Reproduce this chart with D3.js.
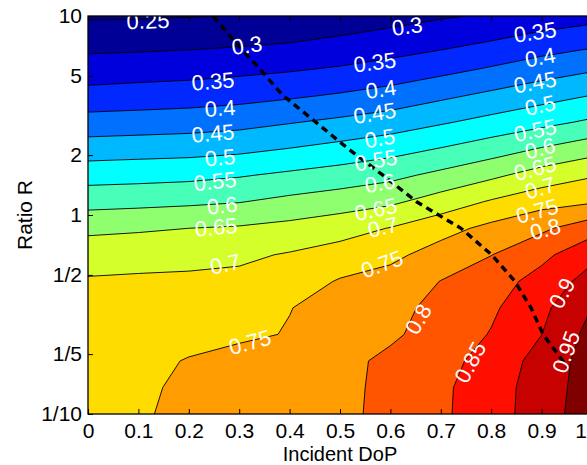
<!DOCTYPE html>
<html>
<head>
<meta charset="utf-8">
<script src="https://cdn.jsdelivr.net/npm/d3@7"></script>
<style>
  html, body { margin: 0; padding: 0; background: #fff; overflow: hidden; }
  svg { display: block; font-family: "Liberation Sans", Arial, Helvetica, sans-serif; }
</style>
</head>
<body>
<svg id="chart" width="587" height="465"></svg>
<script>
// Sampling grid: incident degree of polarization (columns) and ratio R (rows, log spaced)
const dopGrid = [0, 0.1, 0.2, 0.3, 0.4, 0.5, 0.6, 0.7, 0.8, 0.9, 1.0];
const ratioGrid = [0.1, 0.1359, 0.1848, 0.2512, 0.3415, 0.4642, 0.6310, 0.8577,
                   1.1659, 1.5849, 2.1544, 2.9286, 3.9811, 5.4117, 7.3564, 10];

// Output DoP on the grid, one row per ratio (R = 0.1 first)
const outputDoP = [
  [0.735, 0.746, 0.7586, 0.7706, 0.7827, 0.789, 0.813, 0.842, 0.878, 0.925, 0.98],
  [0.731, 0.744, 0.7564, 0.7688, 0.7813, 0.788, 0.812, 0.841, 0.8768, 0.9236, 0.975],
  [0.726, 0.739, 0.7523, 0.7657, 0.7791, 0.787, 0.810, 0.8356, 0.866, 0.920, 0.972],
  [0.720, 0.729, 0.737, 0.742, 0.7524, 0.7735, 0.7926, 0.8197, 0.8528, 0.8995, 0.967],
  [0.713, 0.717, 0.722, 0.728, 0.749, 0.764, 0.7874, 0.8118, 0.842, 0.888, 0.951],
  [0.705, 0.708, 0.710, 0.712, 0.725, 0.754, 0.770, 0.801, 0.827, 0.869, 0.92],
  [0.678, 0.681, 0.684, 0.691, 0.704, 0.7205, 0.738, 0.771, 0.799, 0.837, 0.888],
  [0.639, 0.644, 0.650, 0.655, 0.665, 0.680, 0.702, 0.732, 0.763, 0.791, 0.83],
  [0.582, 0.586, 0.591, 0.598, 0.613, 0.626, 0.641, 0.672, 0.705, 0.732, 0.745],
  [0.530, 0.533, 0.537, 0.546, 0.559, 0.572, 0.587, 0.612, 0.6395, 0.6715, 0.6956],
  [0.474, 0.478, 0.481, 0.488, 0.501, 0.515, 0.531, 0.552, 0.5755, 0.603, 0.629],
  [0.420, 0.423, 0.427, 0.434, 0.447, 0.460, 0.474, 0.4945, 0.5155, 0.536, 0.558],
  [0.367, 0.372, 0.376, 0.383, 0.393, 0.405, 0.4195, 0.440, 0.4605, 0.481, 0.501],
  [0.323, 0.327, 0.331, 0.3375, 0.345, 0.355, 0.368, 0.3855, 0.405, 0.426, 0.444],
  [0.283, 0.285, 0.288, 0.293, 0.2995, 0.311, 0.323, 0.336, 0.353, 0.372, 0.388],
  [0.244, 0.245, 0.248, 0.251, 0.255, 0.268, 0.282, 0.295, 0.305, 0.3205, 0.333]
];

// Contour levels and the fill colour of the band above each level
const levels = [0.25, 0.3, 0.35, 0.4, 0.45, 0.5, 0.55, 0.6, 0.65, 0.7, 0.75, 0.8, 0.85, 0.9, 0.95];
const baseColor = "#000080";
const levelColors = ["#000096", "#0000dc", "#0028ff", "#0070ff", "#00b8ff", "#00ffff", "#47ffb8",
                     "#8fff70", "#d4ff2b", "#ffdc00", "#ff9c00", "#ff5400", "#ff0f00", "#c70000", "#800000"];

// Dashed ridge curve
const ridgeDoP = [0.248, 0.293, 0.341, 0.387, 0.452, 0.516, 0.585, 0.652, 0.712, 0.740, 0.801, 0.847, 0.879, 0.903, 0.942, 0.950];
const ridgeR   = [10, 7.3564, 5.4117, 3.9811, 2.9286, 2.1544, 1.5849, 1.1659, 0.944, 0.8577, 0.6310, 0.4642, 0.3415, 0.2512, 0.1848, 0.172];

// Contour labels
const labelText  = ["0.25", "0.3", "0.35", "0.4", "0.45", "0.5", "0.55", "0.6", "0.65", "0.7", "0.75",
                    "0.3", "0.35", "0.4", "0.45", "0.5", "0.55", "0.6", "0.65", "0.7", "0.75", "0.8",
                    "0.35", "0.4", "0.45", "0.5", "0.55", "0.6", "0.65", "0.7", "0.75", "0.8", "0.85", "0.9", "0.95"];
const labelDoP   = [0.119, 0.315, 0.248, 0.262, 0.248, 0.262, 0.252, 0.266, 0.254, 0.272, 0.321,
                    0.633, 0.569, 0.581, 0.569, 0.579, 0.571, 0.579, 0.571, 0.585, 0.583, 0.655,
                    0.887, 0.897, 0.887, 0.897, 0.887, 0.897, 0.887, 0.897, 0.891, 0.907, 0.758, 0.940, 0.948];
const labelR     = [9.48, 7.14, 4.71, 3.45, 2.58, 1.95, 1.48, 1.12, 0.871, 0.568, 0.230,
                    8.91, 5.87, 4.30, 3.26, 2.44, 1.89, 1.45, 1.07, 0.871, 0.568, 0.300,
                    8.32, 6.22, 4.66, 3.57, 2.67, 2.17, 1.72, 1.37, 1.05, 0.851, 0.182, 0.406, 0.205];
const labelAngle = [-2, -8, -5, -4, -5, -5, -6, -6, -5, -12, -15,
                    -8, -7, -8, -9, -9, -10, -10, -12, -13, -20, -60,
                    -8, -10, -10, -12, -12, -15, -15, -17, -15, -15, -62, -62, -70];

// Axis ticks
const xTicks = [0, 0.1, 0.2, 0.3, 0.4, 0.5, 0.6, 0.7, 0.8, 0.9, 1];
const yTicks = [0.1, 0.2, 0.5, 1, 2, 5, 10];
const yTickLabels = ["1/10", "1/5", "1/2", "1", "2", "5", "10"];

const svg = d3.select("#chart");
const plotLeft = 88, plotRight = 592, plotTop = 16, plotBottom = 414;

const x = d3.scaleLinear().domain([0, 1]).range([plotLeft, plotRight]);
const y = d3.scaleLog().domain([0.1, 10]).range([plotBottom, plotTop]);

const nx = dopGrid.length, ny = ratioGrid.length;
const values = [].concat(...outputDoP);

// grid index (cell centres at i + 0.5) -> data coordinates
const gxToDop = d3.scaleLinear().domain([0.5, nx - 0.5]).range([dopGrid[0], dopGrid[nx - 1]]);
const gyToLog = d3.scaleLinear().domain([0.5, ny - 0.5])
  .range([Math.log10(ratioGrid[0]), Math.log10(ratioGrid[ny - 1])]);

const path = d3.geoPath(d3.geoTransform({
  point(gx, gy) { this.stream.point(x(gxToDop(gx)), y(Math.pow(10, gyToLog(gy)))); }
}));

const contours = d3.contours().size([nx, ny]).thresholds(levels)(values);

svg.append("defs").append("clipPath").attr("id", "plot-clip")
  .append("rect").attr("x", plotLeft).attr("y", plotTop)
  .attr("width", plotRight - plotLeft).attr("height", plotBottom - plotTop);

const plot = svg.append("g").attr("clip-path", "url(#plot-clip)");

plot.append("rect").attr("x", plotLeft).attr("y", plotTop)
  .attr("width", plotRight - plotLeft).attr("height", plotBottom - plotTop).attr("fill", baseColor);

plot.selectAll("path.band").data(contours).join("path")
  .attr("class", "band")
  .attr("d", path)
  .attr("fill", (d, i) => levelColors[i])
  .attr("stroke", "none");

plot.selectAll("path.iso").data(contours).join("path")
  .attr("class", "iso")
  .attr("d", path)
  .attr("fill", "none")
  .attr("stroke", "#000")
  .attr("stroke-width", 0.9);

// dashed ridge
const ridge = d3.line().x(d => x(d[0])).y(d => y(d[1]));
plot.append("path")
  .attr("d", ridge(ridgeDoP.map((d, i) => [d, ridgeR[i]])))
  .attr("fill", "none")
  .attr("stroke", "#000")
  .attr("stroke-width", 3.4)
  .attr("stroke-dasharray", "7,5");

// contour labels
plot.selectAll("text.clabel").data(labelText).join("text")
  .attr("class", "clabel")
  .attr("transform", (d, i) => `translate(${x(labelDoP[i])},${y(labelR[i])}) rotate(${labelAngle[i]})`)
  .attr("text-anchor", "middle")
  .attr("dy", "0.36em")
  .attr("fill", "#fff")
  .attr("font-size", 22)
  .text(d => d);

// axes with inward ticks
const axisFont = 21;
const xAxisG = svg.append("g").attr("transform", `translate(0,${plotBottom})`)
  .call(d3.axisBottom(x).tickValues(xTicks).tickFormat(d3.format("")).tickSize(-5).tickSizeOuter(0).tickPadding(9));
svg.append("g").attr("transform", `translate(0,${plotTop})`)
  .call(d3.axisTop(x).tickValues(xTicks).tickFormat("").tickSize(-5).tickSizeOuter(0));
svg.append("g").attr("transform", `translate(${plotLeft},0)`)
  .call(d3.axisLeft(y).tickValues(yTicks).tickFormat((d, i) => yTickLabels[i]).tickSize(-5).tickSizeOuter(0).tickPadding(6));
svg.append("g").attr("transform", `translate(${plotRight},0)`)
  .call(d3.axisRight(y).tickValues(yTicks).tickFormat("").tickSize(-5).tickSizeOuter(0));

svg.selectAll(".domain").remove();
svg.selectAll(".tick line").attr("stroke", "#000").attr("stroke-width", 1);
svg.selectAll(".tick text").attr("font-size", axisFont).attr("fill", "#000")
  .attr("font-family", '"Liberation Sans", Arial, sans-serif');

// the last x tick sits on the canvas edge; nudge its label inward so it stays readable
xAxisG.selectAll(".tick").filter(d => d === 1).select("text").attr("x", -11.5);

svg.append("rect").attr("x", plotLeft).attr("y", plotTop)
  .attr("width", plotRight - plotLeft).attr("height", plotBottom - plotTop)
  .attr("fill", "none").attr("stroke", "#000").attr("stroke-width", 1.3);

// axis titles
svg.append("text").attr("x", (plotLeft + plotRight) / 2).attr("y", 460.5)
  .attr("text-anchor", "middle").attr("font-size", 20).attr("fill", "#000")
  .text("Incident DoP");
svg.append("text").attr("transform", `translate(32,${(plotTop + plotBottom) / 2}) rotate(-90)`)
  .attr("text-anchor", "middle").attr("font-size", 21).attr("fill", "#000")
  .text("Ratio R");
</script>
</body>
</html>
